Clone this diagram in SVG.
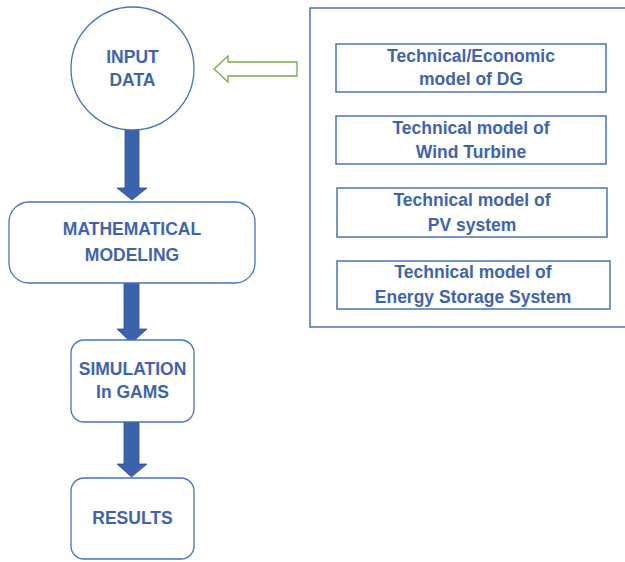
<svg xmlns="http://www.w3.org/2000/svg" width="625" height="562" viewBox="0 0 625 562">
  <style>
    .node { fill: #ffffff; stroke: #4472c4; stroke-width: 1.3; }
    .box { fill: #ffffff; stroke: #4a72bd; stroke-width: 1.5; }
    .lbl { font-family: "Liberation Sans", Arial, sans-serif; font-weight: bold; font-size: 17.5px; fill: #3f64ad; text-anchor: middle; }
    .flow { fill: #3d62ad; stroke: #2f528f; stroke-width: 0.8; }
    .feed { fill: #ffffff; stroke: #70ad47; stroke-width: 1.3; }
  </style>

  <!-- connectors -->
  <g id="connectors">
    <path class="flow" d="M125,130 H139 V188 H147 L132,200 L117,188 H125 Z"/>
    <path class="flow" d="M124,283 H139 V329 H147 L131.5,343 L117,329 H124 Z"/>
    <path class="flow" d="M124,422 H139 V464 H147 L131.5,477 L117,464 H124 Z"/>
    <path class="feed" d="M297,62 V76 H228 V82 L214,69 L228,56 V62 Z"/>
  </g>

  <!-- main flow -->
  <g id="input-data">
    <circle class="node" cx="132.5" cy="68.5" r="61.5"/>
    <text class="lbl" x="132.5" y="63">INPUT</text>
    <text class="lbl" x="132.5" y="86">DATA</text>
  </g>
  <g id="mathematical-modeling">
    <rect class="node" x="9" y="202" width="246" height="81" rx="20"/>
    <text class="lbl" x="132" y="235">MATHEMATICAL</text>
    <text class="lbl" x="132" y="261">MODELING</text>
  </g>
  <g id="simulation">
    <rect class="node" x="71" y="340" width="123" height="82" rx="13"/>
    <text class="lbl" x="132.5" y="375">SIMULATION</text>
    <text class="lbl" x="132.5" y="398">In GAMS</text>
  </g>
  <g id="results">
    <rect class="node" x="71" y="478" width="123" height="81" rx="13"/>
    <text class="lbl" x="132.5" y="524">RESULTS</text>
  </g>

  <!-- model inputs panel -->
  <g id="model-panel">
    <rect class="box" x="310" y="8" width="330" height="319"/>
  </g>
  <g id="dg-model">
    <rect class="box" x="336" y="44" width="270" height="48"/>
    <text class="lbl" x="471" y="62">Technical/Economic</text>
    <text class="lbl" x="471" y="85">model of DG</text>
  </g>
  <g id="wind-model">
    <rect class="box" x="336" y="116" width="270" height="48"/>
    <text class="lbl" x="471" y="134">Technical model of</text>
    <text class="lbl" x="471" y="158">Wind Turbine</text>
  </g>
  <g id="pv-model">
    <rect class="box" x="337" y="188" width="270" height="49"/>
    <text class="lbl" x="472" y="206">Technical model of</text>
    <text class="lbl" x="472" y="231">PV system</text>
  </g>
  <g id="storage-model">
    <rect class="box" x="337" y="261" width="273" height="48"/>
    <text class="lbl" x="473" y="278">Technical model of</text>
    <text class="lbl" x="473" y="303">Energy Storage System</text>
  </g>
</svg>
